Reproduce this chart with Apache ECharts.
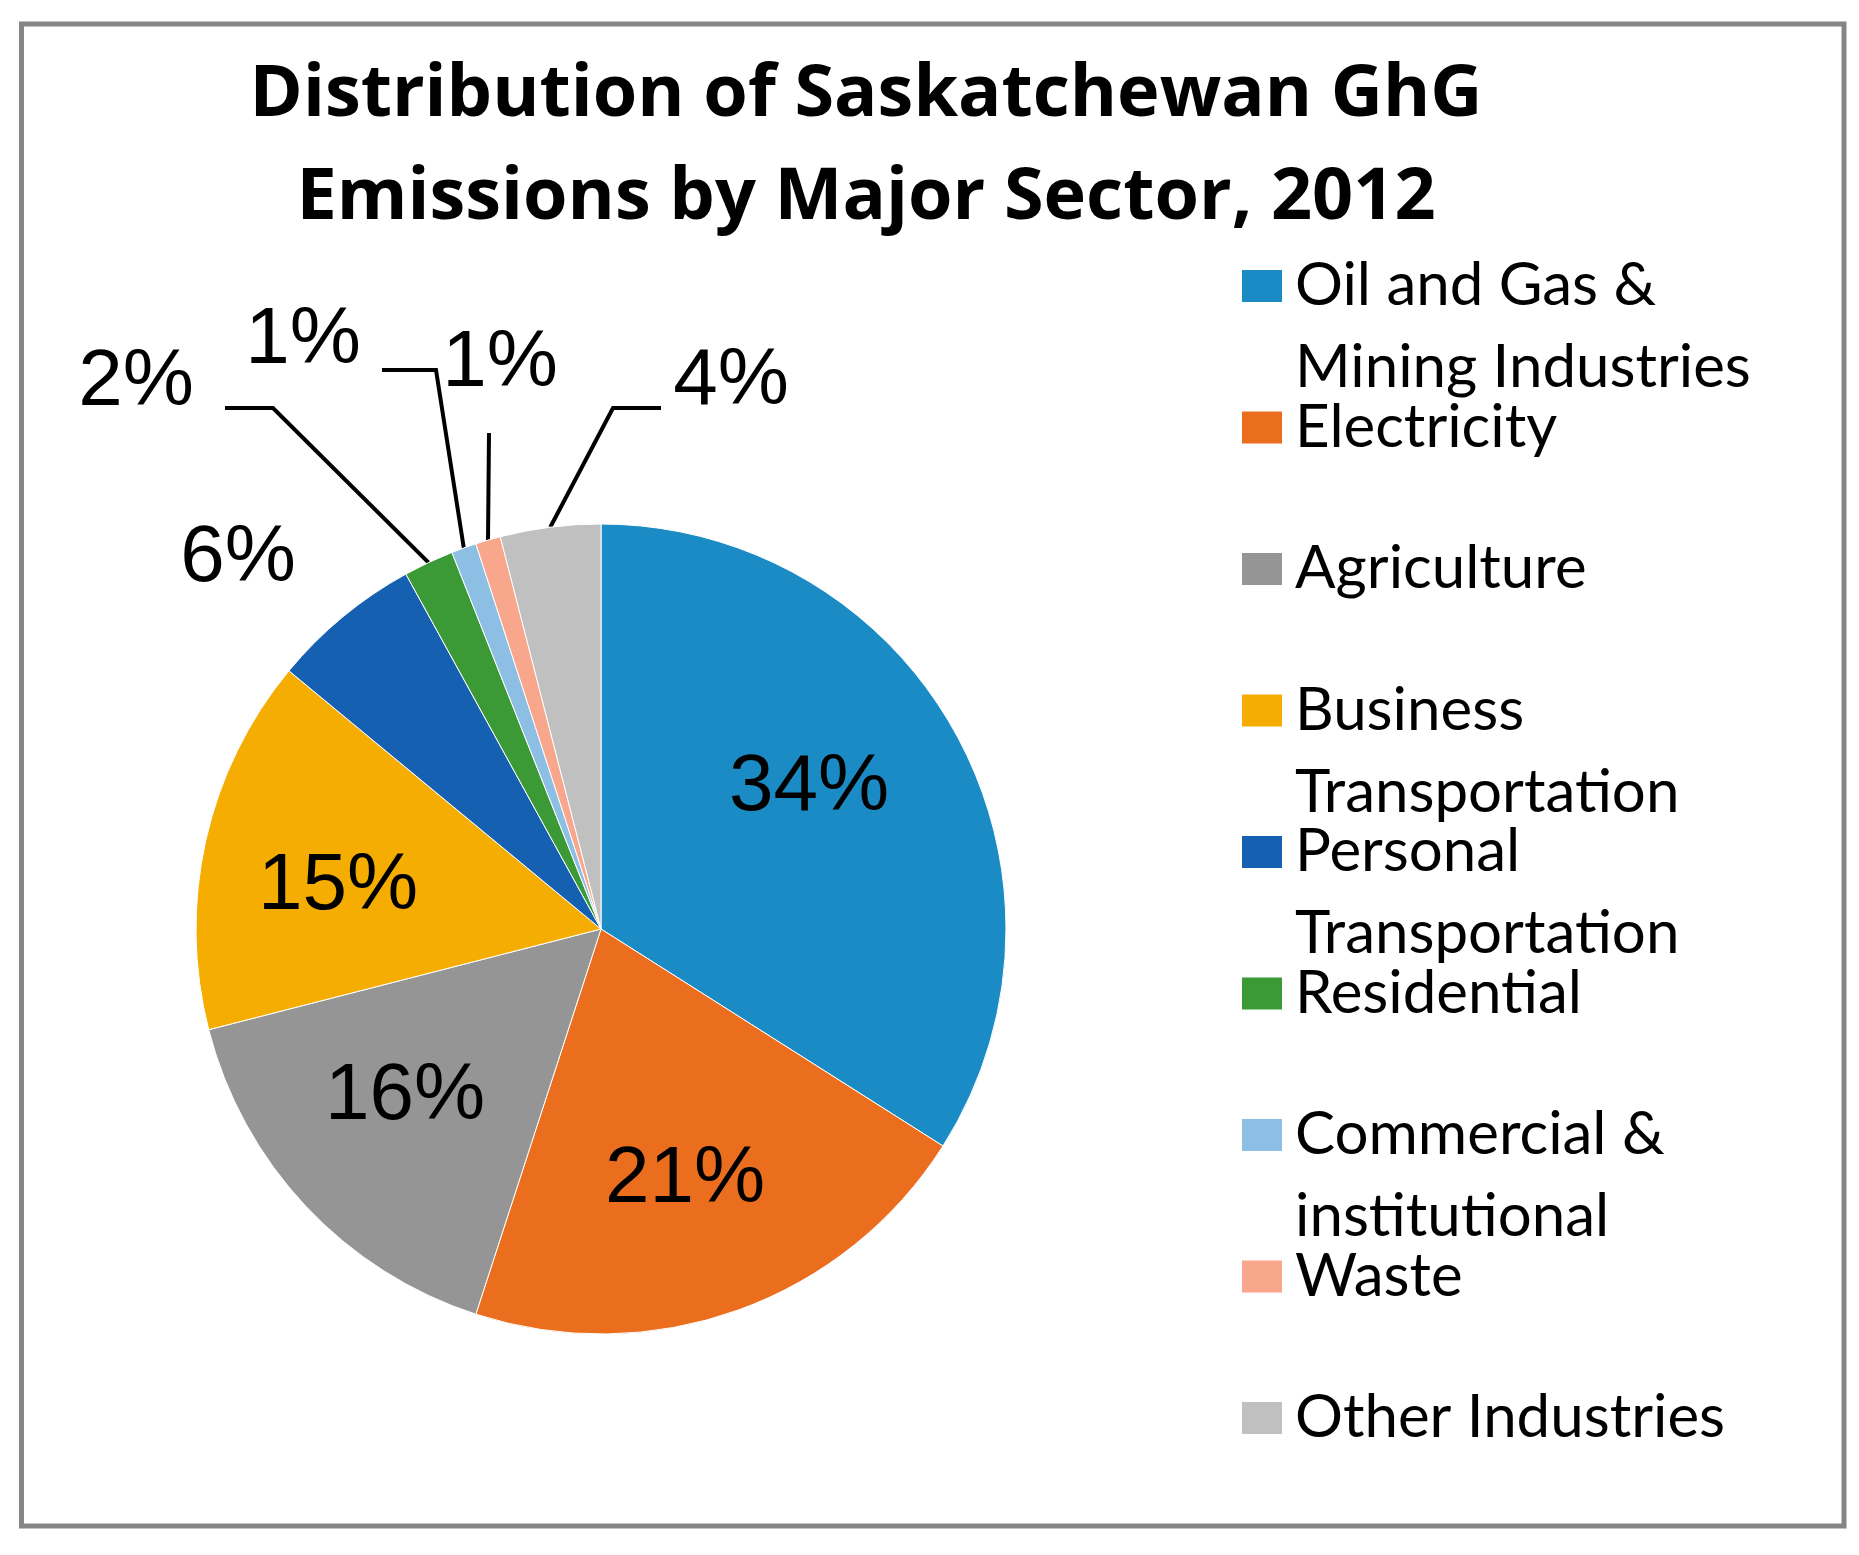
<!DOCTYPE html>
<html>
<head>
<meta charset="utf-8">
<title>Distribution of Saskatchewan GhG Emissions by Major Sector, 2012</title>
<script src="https://cdn.jsdelivr.net/npm/echarts@6/dist/echarts.min.js"></script>
<style>
  html, body { margin: 0; padding: 0; background: #fff; }
  #chart { width: 1859px; height: 1555px; }
</style>
</head>
<body>
<div id="chart"></div>
<script>
// sectors, clockwise from 12 o'clock
var sectors = ['Oil and Gas & Mining Industries', 'Electricity', 'Agriculture', 'Business Transportation',
    'Personal Transportation', 'Residential', 'Commercial & institutional', 'Waste', 'Other Industries'];
// how the legend breaks the names
var legendLines = [['Oil and Gas &', 'Mining Industries'], ['Electricity'], ['Agriculture'], ['Business', 'Transportation'],
    ['Personal', 'Transportation'], ['Residential'], ['Commercial &', 'institutional'], ['Waste'], ['Other Industries']];
var shares = [34, 21, 16, 15, 6, 2, 1, 1, 4];
var colors = ['#1a8bc4', '#eb6d1e', '#959595', '#f4ad00', '#1560b0', '#3b9a35', '#8dbfe5', '#f8a68c', '#c0c0c0'];

// pie geometry (px)
var cx = 601, cy = 929, R = 405;
// where each percentage sits, relative to the pie centre
var labelSpots = [[208, -141], [84, 251], [-196, 168], [-263, -42], [-363, -370],
    [-465, -546], [-298, -588], [-101, -565], [130, -547]];
// bend / end of the leader lines, relative to the pie centre (null = no line)
var leaderBends = [null, null, null, null, null,
    [[-328, -521], [-376, -521]], [[-165, -559], [-219, -559]], [[-112, -496], [-112, -496]], [[12, -521], [60, -521]]];

var total = shares.reduce(function (a, b) { return a + b; }, 0);

// point on the rim at the middle of slice i
function rimPoint(i) {
    var before = 0;
    for (var k = 0; k < i; k++) before += shares[k];
    var a = (before + shares[i] / 2) / total * 2 * Math.PI;
    return [cx + R * Math.sin(a), cy - R * Math.cos(a)];
}

var pieData = sectors.map(function (name, i) {
    return {
        name: name,
        value: shares[i],
        itemStyle: { color: colors[i] },
        label: { position: leaderBends[i] ? 'outside' : 'inside' },
        labelLine: { show: !!leaderBends[i] }
    };
});

var chart = echarts.init(document.getElementById('chart'));
chart.setOption({
    animation: false,
    backgroundColor: '#fff',
    title: {
        text: 'Distribution of Saskatchewan GhG\nEmissions by Major Sector, 2012',
        left: 866,
        top: 44,
        padding: 0,
        textAlign: 'center',
        textStyle: {
            fontFamily: 'Open Sans',
            fontWeight: 'bold',
            fontSize: 72,
            lineHeight: 103,
            color: '#000'
        }
    },
    legend: {
        orient: 'vertical',
        left: 1242,
        top: 163,
        height: 1500,
        padding: 0,
        itemWidth: 40,
        itemHeight: 32,
        itemGap: -104.5,
        icon: 'rect',
        selectedMode: false,
        itemStyle: { borderWidth: 0 },
        data: sectors,
        formatter: function (name) {
            var lines = legendLines[sectors.indexOf(name)];
            return '\n' + lines.join('\n') + (lines.length === 1 ? '\n' : '');
        },
        textStyle: {
            fontFamily: 'Lato',
            fontSize: 60,
            lineHeight: 82,
            color: '#000',
            padding: [0, 0, 0, 8]
        }
    },
    graphic: [{
        type: 'rect',
        shape: { x: 21.5, y: 24, width: 1822.5, height: 1502 },
        style: { fill: 'none', stroke: '#858585', lineWidth: 5 },
        silent: true
    }],
    series: [{
        type: 'pie',
        center: [cx, cy],
        radius: R,
        startAngle: 90,
        clockwise: true,
        avoidLabelOverlap: false,
        itemStyle: { borderColor: '#fff', borderWidth: 1 },
        label: {
            show: true,
            formatter: '{c}%',
            fontFamily: 'Liberation Sans',
            fontSize: 80,
            color: '#000',
            textBorderWidth: 0
        },
        labelLine: {
            lineStyle: { color: '#000', width: 4 },
            smooth: false
        },
        labelLayout: function (p) {
            var i = p.dataIndex;
            var out = {
                x: cx + labelSpots[i][0],
                y: cy + labelSpots[i][1],
                align: 'center',
                verticalAlign: 'middle'
            };
            if (leaderBends[i]) {
                out.labelLinePoints = [rimPoint(i)].concat(leaderBends[i].map(function (p2) {
                    return [cx + p2[0], cy + p2[1]];
                }));
            }
            return out;
        },
        emphasis: { disabled: true },
        data: pieData
    }]
});
</script>
</body>
</html>
